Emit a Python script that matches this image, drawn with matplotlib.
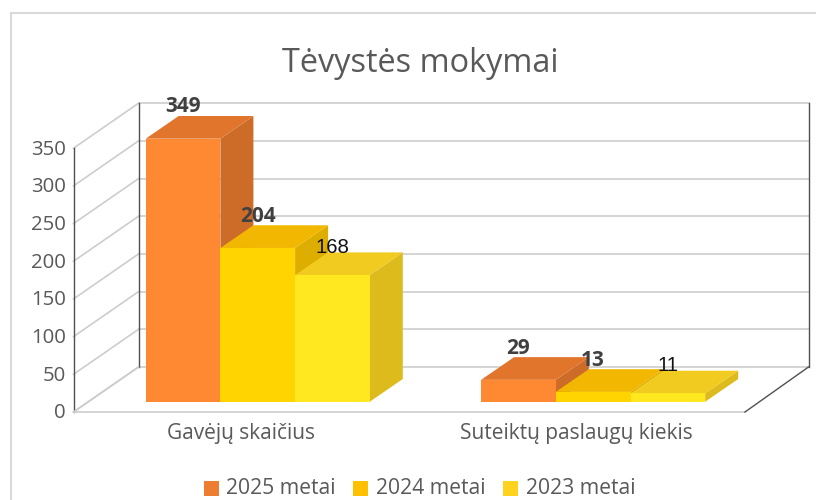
import matplotlib
matplotlib.use("Agg")
import matplotlib.pyplot as plt
from matplotlib.patches import Polygon, Rectangle

categories = ["Gavėjų skaičius", "Suteiktų paslaugų kiekis"]
series_names = ["2025 metai", "2024 metai", "2023 metai"]
v2025 = [349, 29]
v2024 = [204, 13]
v2023 = [168, 11]
yticks = [0, 50, 100, 150, 200, 250, 300, 350]

# front, top, side
colors = [("#FF8833", "#E0752B", "#CD6B28"),
          ("#FFD400", "#F2B700", "#DDAD00"),
          ("#FFE81F", "#F2CB20", "#DEBB1C")]
legend_colors = ["#ED7D31", "#FFC000", "#FFD21E"]

W, H = 816, 500
PX_PER_VAL = 0.7536
BAR_PX = 74.7
BASE_PX = 401.7
GROUP_STEP = 4.49  # in bar widths
FIRST_LEFT_PX = 145.7

plt.rcParams["font.family"] = "Open Sans"
fig = plt.figure(figsize=(W / 100, H / 100), dpi=100)
ax = fig.add_axes([0, 0, 1, 1])
# x unit = one bar width, y unit = chart value, measured on the bar front plane
ax.set_xlim(-FIRST_LEFT_PX / BAR_PX, (W - FIRST_LEFT_PX) / BAR_PX)
ax.set_ylim(-(H - BASE_PX) / PX_PER_VAL, BASE_PX / PX_PER_VAL)
ax.axis("off")


def dx(px):
    return px / BAR_PX


def dy(px):
    return px / PX_PER_VAL


def xpx(px):
    return (px - FIRST_LEFT_PX) / BAR_PX


# chart frame
fig.add_artist(Rectangle((11 / W, -0.1), 2, 1.1 - 13 / H, transform=fig.transFigure,
                         fill=False, ec="#D9D9D9", lw=1.5))

# walls and floor
floor_y = -dy(412 - BASE_PX)      # value 0 on the front of the floor
back_y = floor_y + dy(45)
left_front = xpx(73.5)
left_back = xpx(138.5)
right_front = xpx(745)
right_back = xpx(808.5)
GRID = "#CDCDCD"
AXC = "#505050"
for t in yticks:
    ax.plot([left_front, left_back], [floor_y + t, back_y + t], color=GRID, lw=1.2, zorder=1)
    if t > 0:
        ax.plot([left_back, right_back], [back_y + t, back_y + t], color=GRID, lw=1.2, zorder=1)
    ax.text(left_front - dx(7.5), floor_y + t - dy(1.5), str(t), ha="right", va="center",
            fontsize=14.7, color="#595959")
ax.plot([left_front, left_front], [floor_y, floor_y + 350], color=AXC, lw=1, zorder=2)
ax.plot([left_back, left_back], [back_y, back_y + 350], color=AXC, lw=1, zorder=2)
ax.plot([left_front, left_back], [floor_y, back_y], color=GRID, lw=1.2, zorder=2)
ax.plot([left_front, right_front], [floor_y, floor_y], color=GRID, lw=1.2, zorder=2)
ax.plot([left_back, right_back], [back_y, back_y], color=GRID, lw=1.2, zorder=1)
ax.plot([right_front, right_back], [floor_y, back_y], color=AXC, lw=1, zorder=2)
ax.plot([right_back, right_back], [back_y, back_y + 350], color=AXC, lw=1, zorder=2)

# bars
D_X, D_Y = dx(33), dy(22.7)
series = [v2025, v2024, v2023]
z = 3
for g, cat in enumerate(categories):
    x0 = g * GROUP_STEP
    for s, vals in enumerate(series):
        v = vals[g]
        l, r = x0 + s, x0 + s + 1
        front, top, side = colors[s]
        ax.add_patch(Polygon([(r, 0), (r + D_X, D_Y), (r + D_X, v + D_Y), (r, v)], fc=side, ec="none", zorder=z))
        ax.add_patch(Polygon([(l, v), (l + D_X, v + D_Y), (r + D_X, v + D_Y), (r, v)], fc=top, ec="none", zorder=z))
        ax.add_patch(Polygon([(l, 0), (r, 0), (r, v), (l, v)], fc=front, ec="none", zorder=z))
        z += 1
    ax.text(x0 + 1.5 - dx(16.5), floor_y - dy(21), cat, ha="center", va="center", fontsize=15, color="#595959")

# data labels, the 2023 series is plain in the original
for g in range(len(categories)):
    x0 = g * GROUP_STEP
    for s, vals in enumerate(series):
        v = vals[g]
        bold = s < 2
        ax.text(x0 + s + 0.5, v + D_Y + dy(9 if bold else 5), str(v), ha="center", va="center",
                fontsize=15 if bold else 14.7, fontweight="bold" if bold else "normal",
                color="#404040" if bold else "#111111", zorder=20,
                family="Open Sans" if bold else "Liberation Sans")

ax.text(xpx(420), (BASE_PX - 63) / PX_PER_VAL, "Tėvystės mokymai",
        ha="center", va="center", fontsize=23.4, color="#595959")

# legend
leg_y_px = 488
leg_marks = [204, 353, 503]
for name, c, mx in zip(series_names, legend_colors, leg_marks):
    fig.add_artist(Rectangle((mx / W, 1 - (leg_y_px + 7.5) / H), 14.5 / W, 15 / H,
                             transform=fig.transFigure, fc=c, ec="none"))
    fig.text((mx + 22.5) / W, 1 - leg_y_px / H, name, ha="left", va="center", fontsize=15.2, color="#595959")

fig.savefig("out.png", dpi=100)
